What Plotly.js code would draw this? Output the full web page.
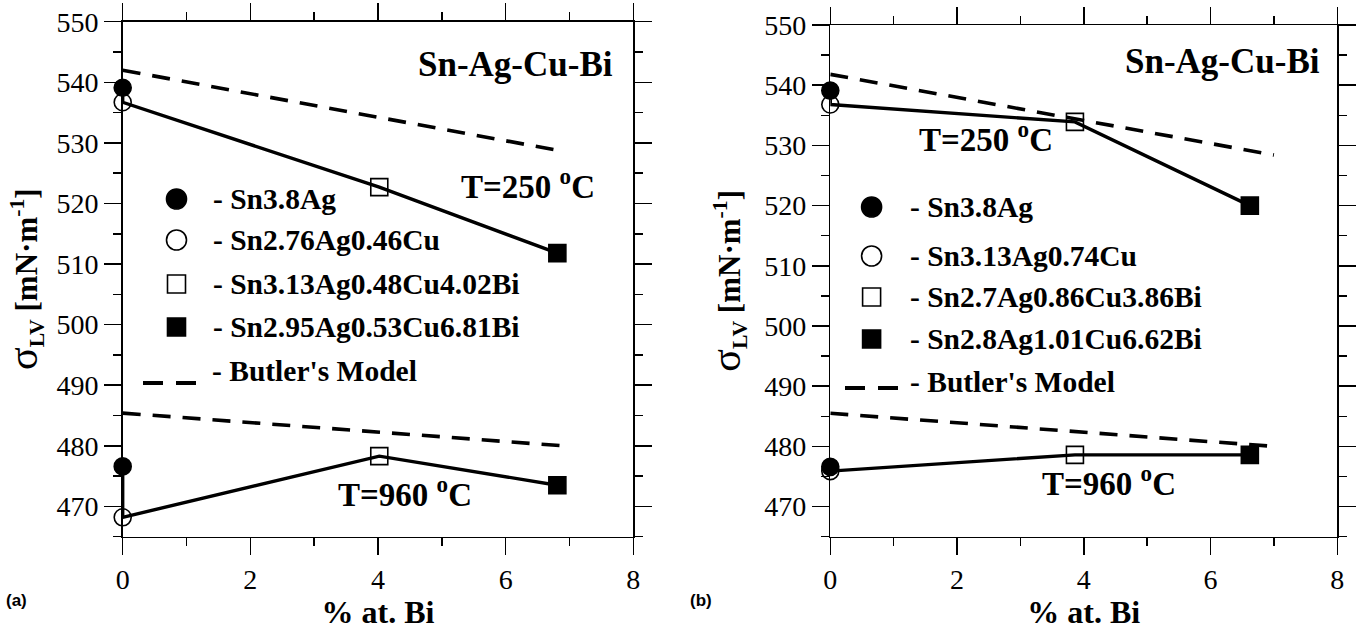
<!DOCTYPE html>
<html><head><meta charset="utf-8">
<script src="https://cdn.plot.ly/plotly-3.0.1.min.js"></script>
<style>html,body{margin:0;padding:0;background:#fff}#chart{width:1359px;height:630px}</style>
</head><body><div id="chart"></div>
<script>
// ---------- data ----------
const bi_a = [0, 0, 4.02, 6.81];
const alloys_a = ['Sn3.8Ag', 'Sn2.76Ag0.46Cu', 'Sn3.13Ag0.48Cu4.02Bi', 'Sn2.95Ag0.53Cu6.81Bi'];
const st250_a = [539.1, 536.7, 522.7, 511.8];
const st960_a = [476.6, 468.2, 478.3, 473.5];
const butlerX_a = [0, 6.9];
const butler250_a = [542.0, 528.6];
const butler960_a = [485.4, 480.0];

const bi_b = [0, 0, 3.86, 6.62];
const alloys_b = ['Sn3.8Ag', 'Sn3.13Ag0.74Cu', 'Sn2.7Ag0.86Cu3.86Bi', 'Sn2.8Ag1.01Cu6.62Bi'];
const st250_b = [539.1, 536.8, 533.9, 520.0];
const st960_b = [476.6, 475.9, 478.6, 478.6];
const butlerX_b = [0, 7.0];
const butler250_b = [541.8, 528.4];
const butler960_b = [485.5, 480.0];

const modelName = "Butler's Model";
const groupTitle = 'Sn-Ag-Cu-Bi';
const tempLabels = ['T=250 <sup>o</sup>C', 'T=960 <sup>o</sup>C'];
const panelLabels = ['(a)', '(b)'];
const xTitle = '% at. Bi';
const yTitle = '<span style="font-size:42px;font-weight:normal">σ</span><sub>LV</sub> [mN·m<sup>-1</sup>]';

// ---------- styling ----------
const W = 1359, H = 630;
const SERIF = 'Liberation Serif, Times New Roman, serif';
const symbols = ['circle', 'circle-open', 'square-open', 'square'];
const msize = [17, 17, 17, 17];
const drawOrder = [1, 2, 3, 0];
const P = (px, py) => ({x: px / W, y: 1 - py / H});

function panel(xa, ya, bi, st250, st960, bx, b250, b960) {
  const t = [];
  const dashLine = {color: '#000', width: 3.6, dash: '18px,12px'};
  t.push({x: bx, y: b250, xaxis: xa, yaxis: ya, mode: 'lines', line: dashLine, name: modelName, showlegend: false, cliponaxis: false});
  t.push({x: bx, y: b960, xaxis: xa, yaxis: ya, mode: 'lines', line: dashLine, name: modelName, showlegend: false, cliponaxis: false});
  t.push({x: bi, y: st250, xaxis: xa, yaxis: ya, mode: 'lines', line: {color: '#000', width: 3.4}, showlegend: false, cliponaxis: false});
  t.push({x: bi, y: st960, xaxis: xa, yaxis: ya, mode: 'lines', line: {color: '#000', width: 3.4}, showlegend: false, cliponaxis: false});
  return t;
}
function markers(xa, ya, bi, st250, st960, names) {
  return drawOrder.map(i => ({
    x: [bi[i], bi[i]], y: [st250[i], st960[i]], xaxis: xa, yaxis: ya, cliponaxis: false,
    mode: 'markers', name: names[i], showlegend: false,
    marker: {symbol: symbols[i], size: msize[i], color: '#000', line: {color: '#000', width: 1.6}}
  }));
}

const data = [].concat(
  panel('x', 'y', bi_a, st250_a, st960_a, butlerX_a, butler250_a, butler960_a),
  panel('x2', 'y2', bi_b, st250_b, st960_b, butlerX_b, butler250_b, butler960_b),
  markers('x', 'y', bi_a, st250_a, st960_a, alloys_a),
  markers('x2', 'y2', bi_b, st250_b, st960_b, alloys_b)
);

function xax(domain) {
  return {
    domain: domain, range: [0, 8], tickvals: [0, 2, 4, 6, 8], ticks: 'outside', ticklen: 17, tickwidth: 1.5,
    tickcolor: '#000', showline: true, linecolor: '#000', linewidth: 1.5, mirror: 'ticks',
    showgrid: false, zeroline: false, tickfont: {family: SERIF, size: 28, color: '#000'},
    minor: {dtick: 1, ticks: 'outside', ticklen: 8, tickwidth: 1.5, tickcolor: '#000', showgrid: false},
    title: {text: '<b>' + xTitle + '</b>', font: {family: SERIF, size: 32, color: '#000'}, standoff: 2}
  };
}
function yax(domain, anchor) {
  return {
    domain: domain, range: [465, 550], dtick: 10, tick0: 470, ticks: 'outside', ticklen: 17, tickwidth: 1.5,
    tickcolor: '#000', showline: true, linecolor: '#000', linewidth: 1.5, mirror: 'ticks', anchor: anchor,
    showgrid: false, zeroline: false, tickfont: {family: SERIF, size: 28, color: '#000'},
    minor: {dtick: 5, ticks: 'outside', ticklen: 8, tickwidth: 1.5, tickcolor: '#000', showgrid: false},
    title: {text: '<b>' + yTitle + '</b>', font: {family: SERIF, size: 31, color: '#000'}, standoff: 14}
  };
}

// manual legends (symbols + text)
const shapes = [];
const annotations = [];
function legend(mx, rows, tx, names, bText, bDash) {
  rows.forEach((ry, i) => {
    const c = P(mx, ry);
    const isCircle = symbols[i].indexOf('circle') === 0;
    const filled = symbols[i].indexOf('open') < 0;
    shapes.push({
      type: isCircle ? 'circle' : 'rect', xref: 'paper', yref: 'paper',
      xsizemode: 'pixel', ysizemode: 'pixel', xanchor: c.x, yanchor: c.y,
      x0: isCircle ? -10 : -9, x1: isCircle ? 10 : 9, y0: isCircle ? -10 : -9, y1: isCircle ? 10 : 9,
      fillcolor: filled ? '#000' : 'rgba(0,0,0,0)', line: {color: '#000', width: 1.6}
    });
    const a = P(tx, ry);
    annotations.push({xref: 'paper', yref: 'paper', x: a.x, y: a.y, xanchor: 'left', yanchor: 'middle',
      text: '<b>- ' + names[i] + '</b>', showarrow: false, font: {family: SERIF, size: 29.5, color: '#000'}});
  });
  const bt = P(bText[0], bText[1]);
  annotations.push({xref: 'paper', yref: 'paper', x: bt.x, y: bt.y, xanchor: 'left', yanchor: 'middle',
    text: '<b>- ' + modelName + '</b>', showarrow: false, font: {family: SERIF, size: 29.5, color: '#000'}});
  const d0 = P(bDash[0], bDash[2]), d1 = P(bDash[1], bDash[2]);
  shapes.push({type: 'line', xref: 'paper', yref: 'paper', x0: d0.x, x1: d1.x, y0: d0.y, y1: d1.y,
    line: {color: '#000', width: 4, dash: '20px,13px'}});
}
legend(176.5, [199, 240, 284, 327], 211, alloys_a, [210, 371], [143, 197, 383]);
legend(871.6, [207, 256, 297, 339], 908, alloys_b, [908, 382], [845, 904, 388]);

function label(px, py, text, size, family, anchor) {
  const p = P(px, py);
  annotations.push({xref: 'paper', yref: 'paper', x: p.x, y: p.y, xanchor: anchor || 'center', yanchor: 'middle',
    text: text, showarrow: false, font: {family: family || SERIF, size: size, color: '#000'}});
}
label(515.5, 65, '<b>' + groupTitle + '</b>', 35);
label(527.5, 184, '<b>' + tempLabels[0] + '</b>', 33);
label(404.5, 492, '<b>' + tempLabels[1] + '</b>', 33);
label(1222, 62, '<b>' + groupTitle + '</b>', 35);
label(986, 137, '<b>' + tempLabels[0] + '</b>', 33);
label(1109, 481, '<b>' + tempLabels[1] + '</b>', 33);
label(4, 600, '<b>' + panelLabels[0] + '</b>', 17, 'Liberation Sans, Arial, sans-serif', 'left');
label(688, 600, '<b>' + panelLabels[1] + '</b>', 17, 'Liberation Sans, Arial, sans-serif', 'left');

const layout = {
  width: W, height: H, margin: {l: 0, r: 0, t: 0, b: 0},
  paper_bgcolor: '#fff', plot_bgcolor: '#fff', showlegend: false,
  font: {family: SERIF, color: '#000'},
  xaxis: Object.assign(xax([122.7 / W, 633.3 / W]), {anchor: 'y'}),
  yaxis: yax([1 - 536.7 / H, 1 - 21.7 / H], 'x'),
  xaxis2: Object.assign(xax([830.3 / W, 1337.3 / W]), {anchor: 'y2'}),
  yaxis2: yax([1 - 536.7 / H, 1 - 25 / H], 'x2'),
  shapes: shapes, annotations: annotations
};

Plotly.newPlot('chart', data, layout, {displayModeBar: false, staticPlot: true});
</script></body></html>
